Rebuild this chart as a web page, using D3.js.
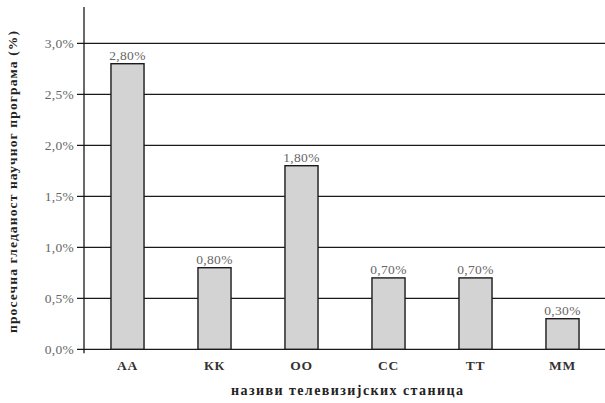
<!DOCTYPE html>
<html><head><meta charset="utf-8">
<script src="https://cdn.jsdelivr.net/npm/d3@7"></script>
<style>body{margin:0;background:#fff}svg{display:block}</style>
</head><body>
<script>
const categories = ["АА","КК","ОО","СС","ТТ","ММ"];
const values = [2.8, 0.8, 1.8, 0.7, 0.7, 0.3];
const yTicks = [0, 0.5, 1.0, 1.5, 2.0, 2.5, 3.0];
const yTitle = "просечна гледаност научног програма (%)";
const xTitle = "називи телевизијских станица";

const W = 605, H = 403;
const x0 = 84, xr = 606, yBase = 349.3, yTop = 43.3;
const svg = d3.select("body").append("svg").attr("width", W).attr("height", H);
const font = "'Liberation Serif', 'DejaVu Serif', serif";

const x = d3.scaleBand().domain(categories).range([x0, xr]).paddingInner(0.62).paddingOuter(0.31);
const y = d3.scaleLinear().domain([0, 3]).range([yBase, yTop]);
const fmt = v => d3.format(".1f")(v).replace(".", ",") + "%";
const fmt2 = v => d3.format(".2f")(v).replace(".", ",") + "%";

svg.append("g").selectAll("line").data(yTicks).join("line")
  .attr("x1", 77).attr("x2", W).attr("y1", d => y(d)).attr("y2", d => y(d))
  .attr("stroke", "#1a1a1a").attr("stroke-width", 1.3);

svg.append("line").attr("x1", x0).attr("x2", x0).attr("y1", 7).attr("y2", yBase + 4)
  .attr("stroke", "#1a1a1a").attr("stroke-width", 1.3);

svg.append("g").selectAll("text").data(yTicks).join("text")
  .attr("x", 74).attr("y", d => y(d) + 4.5).attr("text-anchor", "end")
  .attr("font-family", font).attr("font-size", 13.5).attr("fill", "#666")
  .attr("letter-spacing", 0.3).text(fmt);

svg.append("g").selectAll("rect").data(values).join("rect")
  .attr("x", (d, i) => x(categories[i])).attr("width", x.bandwidth())
  .attr("y", d => y(d)).attr("height", d => yBase - y(d))
  .attr("fill", "#d3d3d3").attr("stroke", "#1a1a1a").attr("stroke-width", 1.4);

svg.append("g").selectAll("text").data(values).join("text")
  .attr("x", (d, i) => x(categories[i]) + x.bandwidth() / 2).attr("y", d => y(d) - 4)
  .attr("text-anchor", "middle").attr("font-family", font).attr("font-size", 13.5).attr("fill", "#666")
  .attr("letter-spacing", 0.3).text(fmt2);

svg.append("g").selectAll("text").data(categories).join("text")
  .attr("x", d => x(d) + x.bandwidth() / 2).attr("y", 370)
  .attr("text-anchor", "middle").attr("font-family", font).attr("font-size", 13.5)
  .attr("font-weight", "bold").attr("fill", "#333").attr("letter-spacing", 0.8).text(d => d);

svg.append("text").attr("x", 347).attr("y", 395).attr("text-anchor", "middle")
  .attr("font-family", font).attr("font-size", 14).attr("font-weight", "bold").attr("fill", "#222")
  .attr("textLength", 232).attr("lengthAdjust", "spacing").text(xTitle);
svg.append("text").attr("transform", "translate(17,182) rotate(-90)").attr("text-anchor", "middle")
  .attr("font-family", font).attr("font-size", 13.5).attr("font-weight", "bold").attr("fill", "#222")
  .attr("textLength", 302).attr("lengthAdjust", "spacing").text(yTitle);
</script>
</body></html>
